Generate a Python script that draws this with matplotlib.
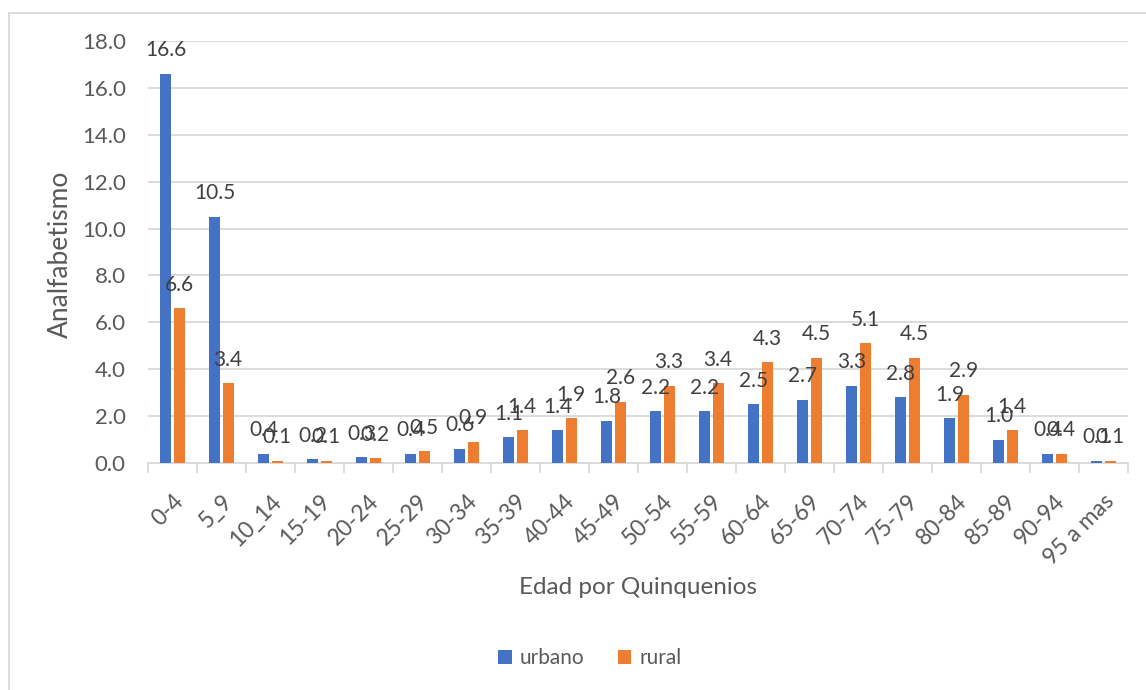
import matplotlib
matplotlib.use('Agg')
import matplotlib.pyplot as plt
import matplotlib.transforms as mtransforms
from matplotlib.patches import Rectangle
import numpy as np

plt.rcParams['font.family'] = ['Lato', 'DejaVu Sans']

groups = ['0-4', '5_9', '10_14', '15-19', '20-24', '25-29', '30-34', '35-39', '40-44',
          '45-49', '50-54', '55-59', '60-64', '65-69', '70-74', '75-79', '80-84',
          '85-89', '90-94', '95 a mas']
urbano = [16.6, 10.5, 0.4, 0.15, 0.25, 0.4, 0.6, 1.1, 1.4, 1.8, 2.2, 2.2, 2.5, 2.7,
          3.3, 2.8, 1.9, 1.0, 0.4, 0.1]
rural = [6.6, 3.4, 0.1, 0.1, 0.2, 0.5, 0.9, 1.4, 1.9, 2.6, 3.3, 3.4, 4.3, 4.5,
         5.1, 4.5, 2.9, 1.4, 0.4, 0.1]
urbano_labels = ['16.6', '10.5', '0.4', '0.2', '0.3', '0.4', '0.6', '1.1', '1.4', '1.8',
                 '2.2', '2.2', '2.5', '2.7', '3.3', '2.8', '1.9', '1.0', '0.4', '0.1']
rural_labels = ['6.6', '3.4', '0.1', '0.1', '0.2', '0.5', '0.9', '1.4', '1.9', '2.6',
                '3.3', '3.4', '4.3', '4.5', '5.1', '4.5', '2.9', '1.4', '0.4', '0.1']

BLUE = '#4472C4'
ORANGE = '#ED7D31'
TXT = '#595959'
GRID = '#D9D9D9'

fig = plt.figure(figsize=(11.46, 6.9), dpi=100)
ax = fig.add_axes([148 / 1146, 1 - 463 / 690, 980 / 1146, 422 / 690])

x = np.arange(len(groups))
w = 0.22
off = 0.137
b1 = ax.bar(x - off, urbano, w, color=BLUE, label='urbano', zorder=3)
b2 = ax.bar(x + off, rural, w, color=ORANGE, label='rural', zorder=3)

for bars, labs in [(b1, urbano_labels), (b2, rural_labels)]:
    for bar, lab in zip(bars, labs):
        ax.annotate(lab, (bar.get_x() + bar.get_width() / 2, bar.get_height()),
                    xytext=(0, 17), textcoords='offset points', ha='center', va='center',
                    fontsize=15, color='#404040', zorder=4)

ax.set_xlim(-0.5, len(groups) - 0.5)
ax.set_ylim(0, 18)
ax.set_yticks(np.arange(0, 19, 2))
ax.set_yticklabels([f'{v:.1f}' for v in np.arange(0, 19, 2)], fontsize=16, color=TXT)
ax.yaxis.grid(True, color=GRID, lw=1.3, zorder=0)
ax.tick_params(axis='y', length=0, pad=16)

ax.set_xticks(x)
ax.set_xticklabels(groups, rotation=45, ha='right', rotation_mode='anchor',
                   fontsize=16.5, color=TXT)
ax.tick_params(axis='x', length=0, pad=20)
shift = mtransforms.ScaledTranslation(0, 0, fig.dpi_scale_trans)
for lbl in ax.get_xticklabels():
    lbl.set_transform(lbl.get_transform() + shift)
ax.set_xticks(np.arange(-0.5, len(groups)), minor=True)
ax.tick_params(axis='x', which='minor', length=7, color=GRID, width=1.3)

for s in ['top', 'right', 'left']:
    ax.spines[s].set_visible(False)
ax.spines['bottom'].set_color(GRID)
ax.spines['bottom'].set_linewidth(1.3)

ax.set_ylabel('Analfabetismo', fontsize=19, color=TXT)
ax.set_xlabel('Edad por Quinquenios', fontsize=17.5, color=TXT)
ax.xaxis.set_label_coords(0.5, -(587 - 463) / 422)
ax.yaxis.set_label_coords(-(148 - 60) / 980, (463 - 254) / 422)
ax.xaxis.label.set_va('center')
ax.yaxis.label.set_va('center')

fig.legend(handles=[b1, b2], loc='center', bbox_to_anchor=(590 / 1146, 1 - 658 / 690),
           ncol=2, frameon=False, fontsize=15, labelcolor=TXT, handlelength=0.65,
           handleheight=0.65, handletextpad=0.4, columnspacing=1.6)

fig.patches.append(Rectangle((9 / 1146, -0.1), 1.2, 0.1 + 1 - 13 / 690,
                             transform=fig.transFigure, fill=False,
                             edgecolor=GRID, lw=1.3))

fig.savefig('out.png', dpi=100)
